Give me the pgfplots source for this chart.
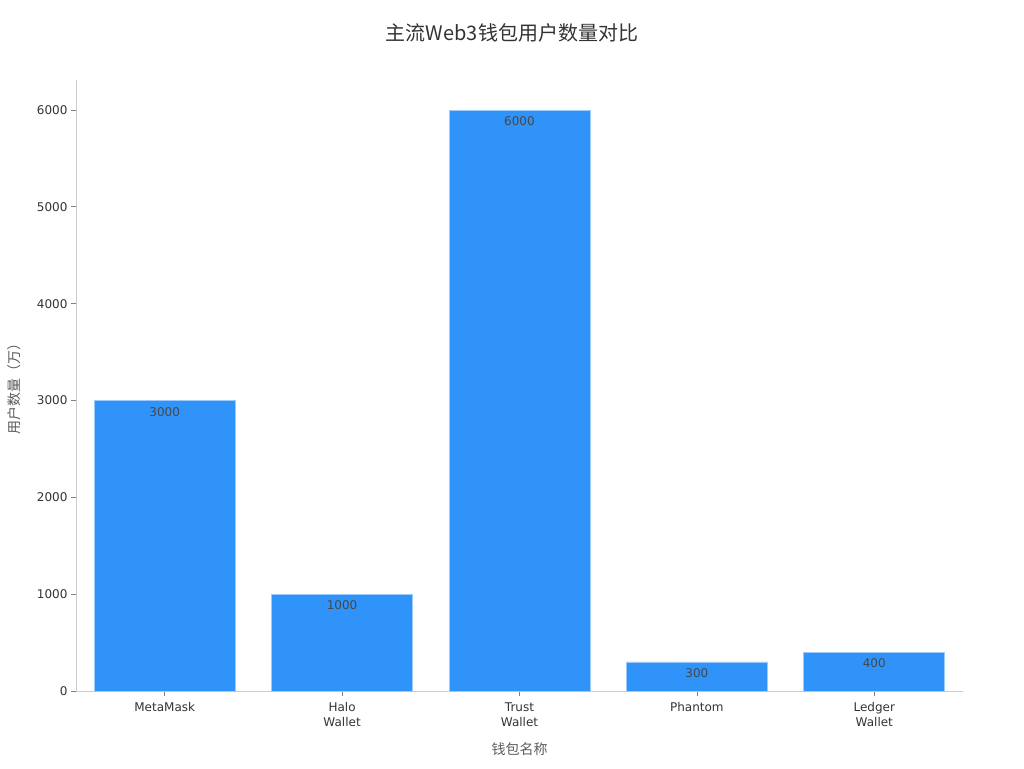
\documentclass[border=0pt]{standalone}
\usepackage{pgfplots}
\pgfplotsset{compat=1.18}
\usepackage{fontspec}
\setmainfont{DejaVu Sans}
\newfontfamily\cjk{Noto Sans CJK SC}
\definecolor{barfill}{HTML}{2F93FA}
\definecolor{baredge}{HTML}{9CCBFB}
\definecolor{txt}{HTML}{333333}
\definecolor{axgray}{HTML}{CCCCCC}
\begin{document}
\begin{tikzpicture}[x=1pt,y=1pt]
\path[use as bounding box] (0,0) rectangle (1024,768);
\node[font=\cjk\fontsize{20}{24}\selectfont, text=txt] at (512,735) {主流Web3钱包用户数量对比};
\begin{axis}[
  at={(76pt,77pt)}, anchor=south west,
  scale only axis, width=887pt, height=611pt,
  xmin=-0.5, xmax=4.5, ymin=0, ymax=6310,
  axis x line*=bottom, axis y line*=left,
  axis line style={draw=axgray, line width=0.8pt},
  x axis line style={-}, y axis line style={-},
  xtick={0,1,2,3,4},
  xticklabels={MetaMask,Halo\\Wallet,Trust\\Wallet,Phantom,Ledger\\Wallet},
  xticklabel style={align=center, font=\fontsize{12}{15}\selectfont, text=txt, yshift=-3pt},
  ytick={0,1000,2000,3000,4000,5000,6000},
  yticklabel style={font=\fontsize{12}{14}\selectfont, text=txt},
  /pgf/number format/assume math mode=true,
  /pgf/number format/1000 sep={},
  tick style={draw=gray, line width=0.8pt},
  tick align=outside, major tick length=5pt,
  xlabel={\cjk 钱包名称}, ylabel={\cjk 用户数量（万）},
  xlabel style={font=\fontsize{14}{16}\selectfont, text=txt!80, at={(axis description cs:0.5,0)}, anchor=north, yshift=-48pt},
  ylabel style={font=\fontsize{14}{16}\selectfont, text=txt!80, at={(axis description cs:0,0.5)}, anchor=south, xshift=0pt, yshift=52pt},
  ybar, bar width=141pt, bar shift=0pt,
  nodes near coords,
  every node near coord/.append style={font=\fontsize{12}{14}\selectfont, text=txt!90, anchor=north, yshift=-3pt},
]
\addplot[fill=barfill, draw=baredge, line width=0.8pt] coordinates {(0,3000) (1,1000) (2,6000) (3,300) (4,400)};
\end{axis}
\end{tikzpicture}
\end{document}
